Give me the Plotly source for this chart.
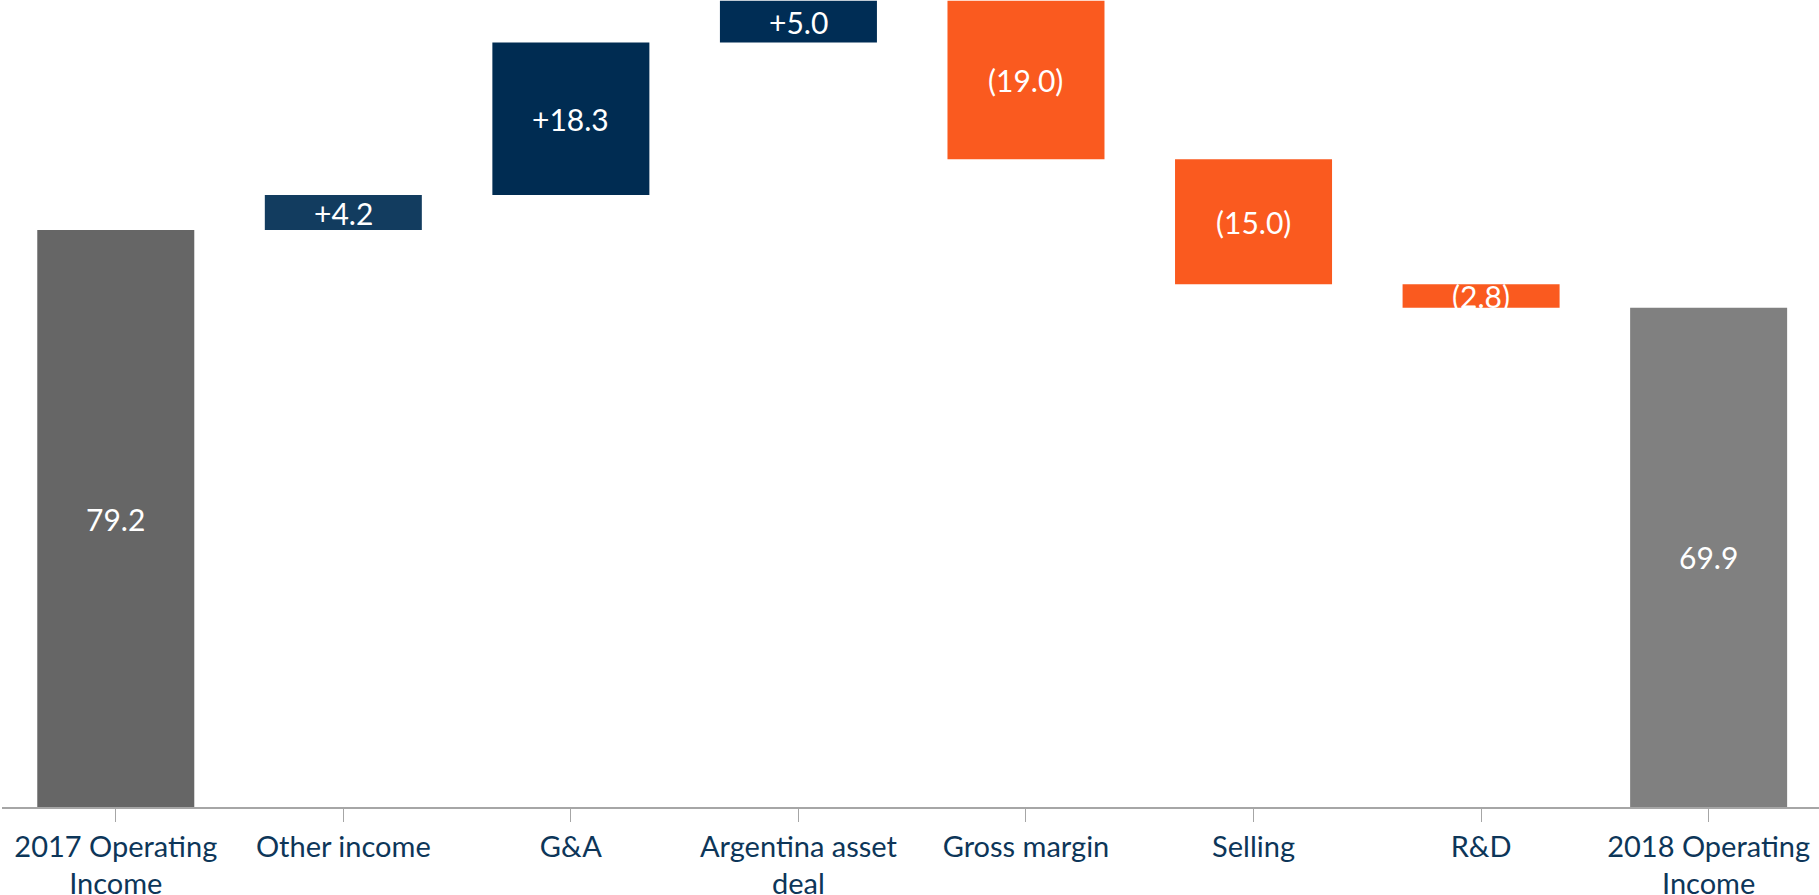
import plotly.graph_objects as go

categories = ["2017 Operating<br>Income", "Other income", "G&A", "Argentina asset<br>deal",
              "Gross margin", "Selling", "R&D", "2018 Operating<br>Income"]
start_value = 79.2
deltas = [4.2, 18.3, 5.0, -19.0, -15.0, -2.8]
end_value = 69.9
colors = ["#666666", "#123c5f", "#002c52", "#002d55", "#fa5a1f", "#fa5a1f", "#fa5a1f", "#808080"]

# build bases / heights from the data
bases = [0]
heights = [start_value]
labels = ["%.1f" % start_value]
running = start_value
for d in deltas:
    if d >= 0:
        bases.append(running)
        heights.append(d)
        labels.append("+%.1f" % d)
    else:
        bases.append(running + d)
        heights.append(-d)
        labels.append("(%.1f)" % (-d))
    running += d
bases.append(0)
heights.append(end_value)
labels.append("%.1f" % end_value)

x = list(range(len(categories)))
ymin, ymax = 10, 106.8

fig = go.Figure()
fig.add_trace(go.Bar(
    x=x, y=heights, base=bases,
    marker=dict(color=colors, line=dict(width=0)),
    width=0.69, hoverinfo="skip",
))

for i in x:
    lo = max(bases[i], ymin)
    hi = bases[i] + heights[i]
    fig.add_annotation(x=i, y=(lo + hi) / 2, text=labels[i], showarrow=False,
                       font=dict(family="Lato", size=30, color="white"),
                       xanchor="center", yanchor="middle")

fig.update_layout(
    width=1819, height=895,
    margin=dict(l=2, r=0, t=0, b=88),
    paper_bgcolor="white", plot_bgcolor="white",
    showlegend=False,
    font=dict(family="Lato", size=29, color="#0d3659"),
)
fig.update_xaxes(
    tickmode="array", tickvals=x, ticktext=categories,
    range=[-0.5, 7.485], automargin=False,
    showline=True, linecolor="#a6a6a6", linewidth=1.5,
    ticks="outside", tickson="boundaries", ticklen=13, tickcolor="#a6a6a6", tickwidth=1,
    showgrid=False, zeroline=False,
)
fig.update_yaxes(range=[ymin, ymax], visible=False, showgrid=False, zeroline=False,
                 automargin=False)

fig.write_html("out.html",
               config={"displayModeBar": False},
               post_script="document.body.style.margin='0';document.body.style.overflow='hidden';")
